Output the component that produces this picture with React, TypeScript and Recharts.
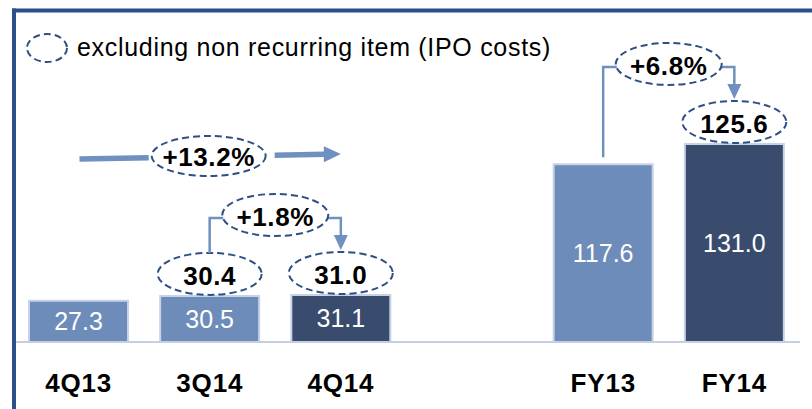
import React from 'react';
import { BarChart, Bar, XAxis, YAxis, Cell, LabelList } from 'recharts';

const categories = ['4Q13', '3Q14', '4Q14', '', 'FY13', 'FY14'];
const revenue: (number | null)[] = [27.3, 30.5, 31.1, null, 117.6, 131.0];
const excludingIpo: (number | null)[] = [null, 30.4, 31.0, null, null, 125.6];
const barTone = ['light', 'light', 'dark', 'light', 'light', 'dark'];
const growthFrom = ['4Q13', '3Q14', 'FY13'];
const growthTo = ['4Q14', '4Q14', 'FY14'];
const growthLabels = ['+13.2%', '+1.8%', '+6.8%'];
const legendText = 'excluding non recurring item (IPO costs)';

const data = categories.map((name, i) => ({ name, value: revenue[i], excl: excludingIpo[i] }));

const FONT = '"Liberation Sans", Arial, Helvetica, sans-serif';
const LIGHT = '#6e8cb9';
const DARK = '#3a4c6e';
const FRAME = '#2b4f8a';
const DASH = '#2e4f84';
const CONNECT = '#7090c0';

type Geo = { cx: number; top: number; ellTop: number | null };
const geo: Record<string, Geo> = {};

const fmt = (v: number) => v.toFixed(1);

const BoldText = ({ x, y, children }: any) => (
  <text x={x} y={y} textAnchor="middle" fontFamily={FONT} fontSize={26} fontWeight="bold" fill="#000" letterSpacing={0.6}>
    {children}
  </text>
);

const DashedEllipse = ({ cx, cy, rx, ry }: any) => (
  <ellipse cx={cx} cy={cy} rx={rx} ry={ry} fill="none" stroke={DASH} strokeWidth={2} strokeDasharray="7 4" />
);

const Annotations = (props: any) => {
  const vb = props.viewBox || {};
  const x = props.x ?? vb.x;
  const y = props.y ?? vb.y;
  const w = props.width ?? vb.width;
  const h = props.height ?? vb.height;
  const idx = revenue.indexOf(Number(props.value));
  if (idx < 0 || x == null) return null;
  const name = categories[idx];
  const cx = x + w / 2;
  const top = Math.min(y, y + h);
  const ex = excludingIpo[idx];
  const ellCy = top - 22;
  geo[name] = { cx, top, ellTop: ex != null ? ellCy - 21 : null };
  const parts: React.ReactNode[] = [];
  if (ex != null) {
    parts.push(
      <g key="excl">
        <DashedEllipse cx={cx} cy={ellCy} rx={52} ry={21} />
        <BoldText x={cx} y={ellCy + 11}>{fmt(ex)}</BoldText>
      </g>
    );
  }
  growthTo.forEach((to, g) => {
    if (to !== name) return;
    const from = geo[growthFrom[g]];
    const dest = geo[to];
    if (!from || !dest) return;
    const adjacent = categories.indexOf(to) - categories.indexOf(growthFrom[g]) === 1;
    const refTop = dest.ellTop ?? dest.top;
    const midX = (from.cx + dest.cx) / 2;
    if (adjacent) {
      const L = refTop - 34;
      const start = from.ellTop != null ? from.ellTop : from.top - 7;
      const rx = 53;
      const tip = refTop - 2;
      parts.push(
        <g key={'g' + g}>
          <polyline
            points={`${from.cx},${start} ${from.cx},${L} ${midX - rx + 1},${L}`}
            fill="none" stroke={CONNECT} strokeWidth={2.5}
          />
          <polyline
            points={`${midX + rx - 1},${L} ${dest.cx},${L} ${dest.cx},${tip - 13}`}
            fill="none" stroke={CONNECT} strokeWidth={2.5}
          />
          <polygon points={`${dest.cx - 7},${tip - 15} ${dest.cx + 7},${tip - 15} ${dest.cx},${tip}`} fill={CONNECT} />
          <DashedEllipse cx={midX} cy={L - 3} rx={rx} ry={21} />
          <BoldText x={midX} y={L + 8}>{growthLabels[g]}</BoldText>
        </g>
      );
    } else {
      const L = refTop - 96;
      const x0 = from.cx + 1;
      const x1 = dest.cx;
      const y0 = L + 3;
      const y1 = L - 2;
      const at = (xx: number) => y0 + ((y1 - y0) * (xx - x0)) / (x1 - x0);
      const rx = 57;
      const a = midX - rx - 4;
      const b = midX + rx + 8;
      const head = x1 - 17;
      parts.push(
        <g key={'g' + g}>
          <line x1={x0} y1={at(x0)} x2={a} y2={at(a)} stroke={CONNECT} strokeWidth={5.5} />
          <line x1={b} y1={at(b)} x2={head + 1} y2={at(head + 1)} stroke={CONNECT} strokeWidth={5.5} />
          <polygon points={`${head},${at(head) - 8} ${head},${at(head) + 8} ${x1},${at(x1)}`} fill={CONNECT} />
          <DashedEllipse cx={midX - 1} cy={L} rx={rx} ry={20} />
          <BoldText x={midX - 1} y={L + 10}>{growthLabels[g]}</BoldText>
        </g>
      );
    }
  });
  return <g>{parts}</g>;
};

const AxisTick = ({ x, y, payload }: any) => (
  <text x={x} y={y + 50} textAnchor="middle" fontFamily={FONT} fontSize={26} fontWeight="bold" fill="#000" letterSpacing={0.8}>
    {payload.value}
  </text>
);

export default function App() {
  return (
    <div style={{ position: 'absolute', left: 0, top: 0, width: 812, height: 409, background: '#fff', overflow: 'hidden' }}>
      <BarChart width={812} height={409} data={data} margin={{ top: 20, right: 12, bottom: 0, left: 13 }}>
        <XAxis
          dataKey="name"
          interval={0}
          height={67}
          tickLine={false}
          tickSize={0}
          tickMargin={0}
          axisLine={{ stroke: '#c3cfe2', strokeWidth: 2 }}
          tick={<AxisTick />}
        />
        <YAxis hide domain={[0, 213]} />
        <Bar dataKey="value" barSize={99} stroke="#c6d3e6" strokeWidth={2} isAnimationActive={false}>
          {data.map((d, i) => (
            <Cell key={i} fill={barTone[i] === 'dark' ? DARK : LIGHT} />
          ))}
          <LabelList
            dataKey="value"
            position="center"
            fill="#fff"
            stroke="none"
            fontSize={25}
            fontFamily={FONT}
            formatter={(v: any) => (v == null ? '' : Number(v).toFixed(1))}
          />
          <LabelList dataKey="value" content={<Annotations />} />
        </Bar>
      </BarChart>
      <svg width={812} height={409} style={{ position: 'absolute', left: 0, top: 0, pointerEvents: 'none' }}>
        <line x1={12} y1={10.5} x2={812} y2={10.5} stroke={FRAME} strokeWidth={4} />
        <line x1={14} y1={8.5} x2={14} y2={409} stroke={FRAME} strokeWidth={4} />
        <ellipse cx={47} cy={48} rx={20} ry={14} fill="none" stroke={DASH} strokeWidth={2} strokeDasharray="7 4" />
        <text x={77} y={56} fontFamily={FONT} fontSize={25} fill="#000" letterSpacing={0.7}>
          {legendText}
        </text>
      </svg>
    </div>
  );
}
